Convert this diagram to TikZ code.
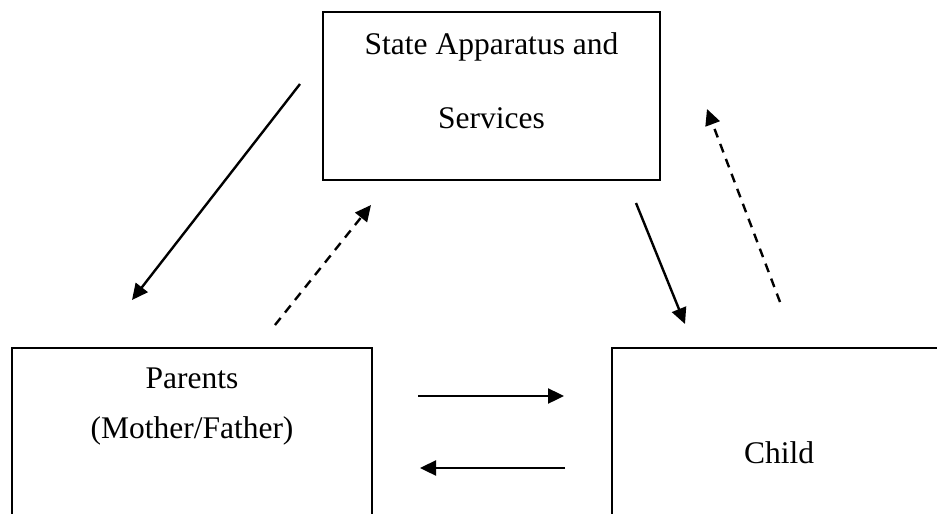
\documentclass[tikz,border=0pt]{standalone}
\usepackage{fontspec}
\setmainfont{Liberation Serif}
\usetikzlibrary{arrows.meta}
\begin{document}
\begin{tikzpicture}[x=1pt,y=-1pt,
  boxnode/.style={draw,line width=2.2pt,rectangle,inner sep=0pt},
  lbl/.style={font=\fontsize{31.5}{36}\selectfont,inner sep=0pt,anchor=center},
  conn/.style={line width=2.4pt,-{Triangle[length=16pt,width=15pt]}},
  dconn/.style={conn,dash pattern=on 9pt off 7pt}]
\useasboundingbox (0,0) rectangle (937,514);
\clip (0,0) rectangle (937,514);
\fill[white] (0,0) rectangle (937,514);
% boxes
\node[boxnode,minimum width=337pt,minimum height=168pt] (state) at (491.5,96) {};
\node[boxnode,minimum width=360pt,minimum height=200pt] (parents) at (192,448) {};
\node[boxnode,minimum width=340pt,minimum height=200pt] (child) at (782,448) {};
% labels
\node[lbl] (t1) at (491.5,47) {\strut State Apparatus and};
\node[lbl] (t2) at (491.5,121) {\strut Services};
\node[lbl] (p1) at (192,381) {\strut Parents};
\node[lbl] (p2) at (192,431) {\strut (Mother/Father)};
\node[lbl] (c1) at (779,456) {\strut Child};
% arrow endpoints
\coordinate (a1s) at (300,84);   \coordinate (a1e) at (132,300);
\coordinate (a2s) at (275,325);  \coordinate (a2e) at (371,205);
\coordinate (a3s) at (636,203);  \coordinate (a3e) at (685,324);
\coordinate (a4s) at (780,302);  \coordinate (a4e) at (707,109);
\coordinate (a5s) at (418,396);  \coordinate (a5e) at (564,396);
\coordinate (a6s) at (565,468);  \coordinate (a6e) at (420,468);
\draw[conn] (a1s) -- (a1e);
\draw[dconn] (a2s) -- (a2e);
\draw[conn] (a3s) -- (a3e);
\draw[dconn] (a4s) -- (a4e);
\draw[conn] (a5s) -- (a5e);
\draw[conn] (a6s) -- (a6e);
\end{tikzpicture}
\end{document}
